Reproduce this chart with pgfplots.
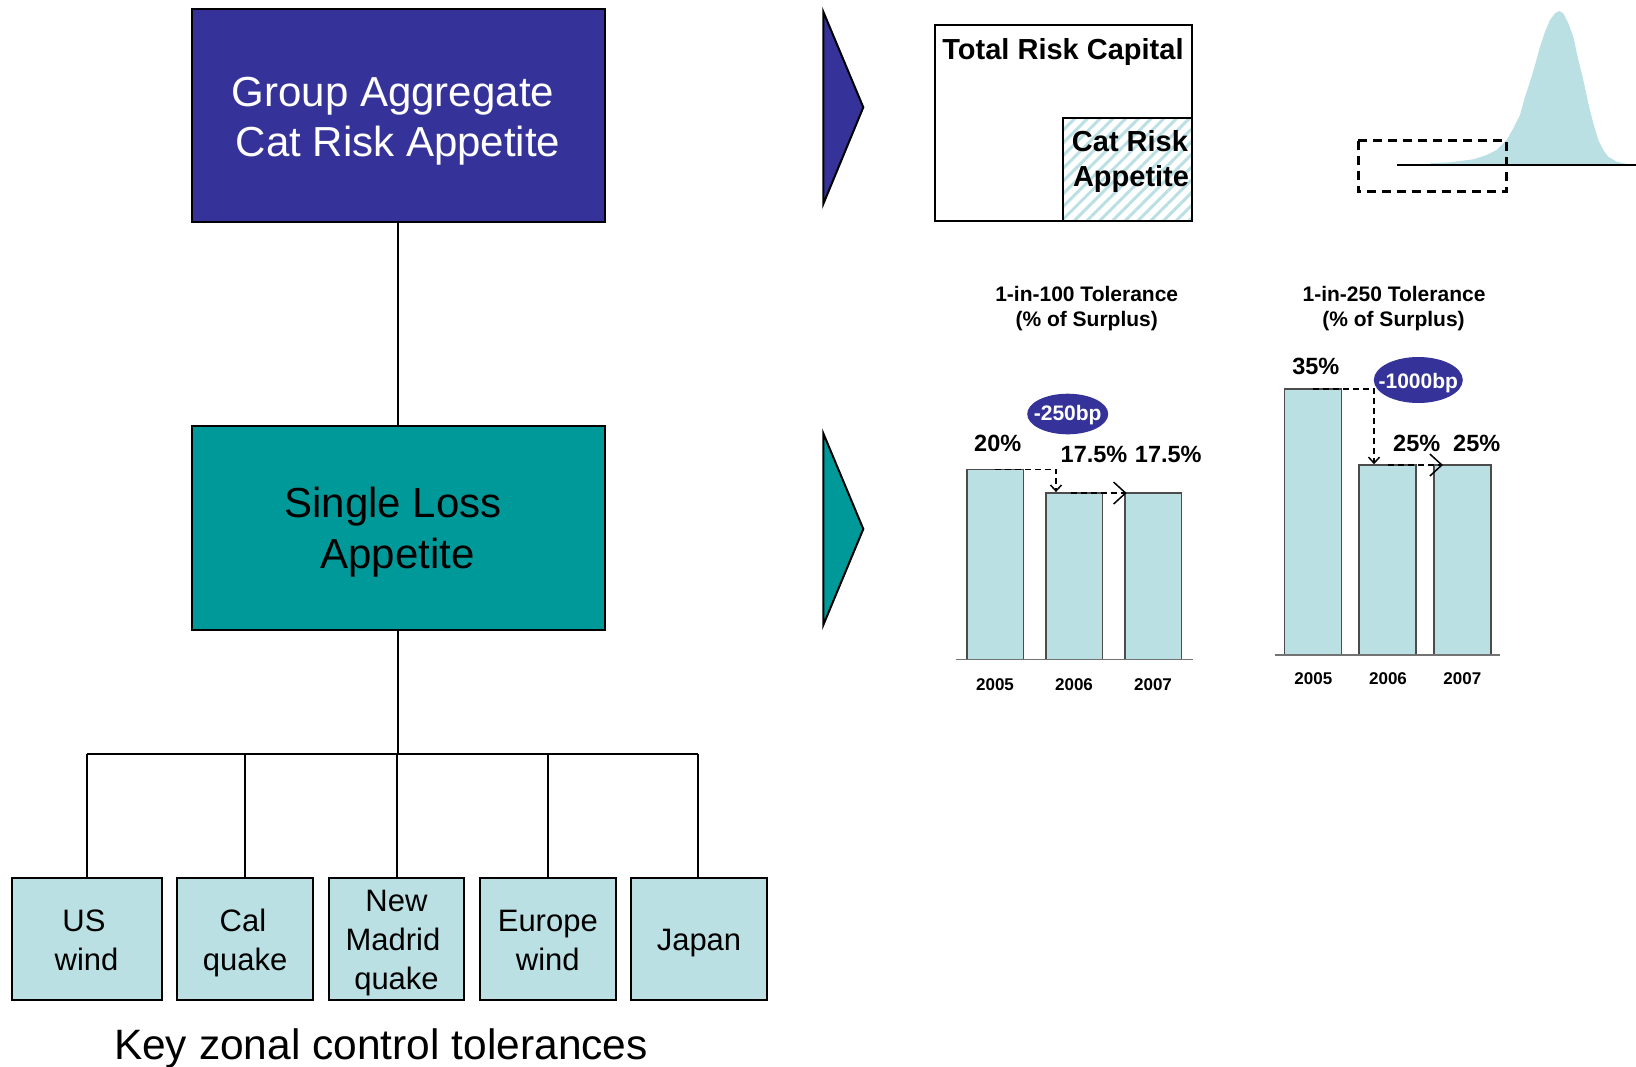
\documentclass[border=0pt]{standalone}
\usepackage{fontspec}
\setmainfont{Liberation Sans}
\usepackage{pgfplots}
\pgfplotsset{compat=1.18}
\usetikzlibrary{arrows.meta,patterns.meta}
\definecolor{catblue}{HTML}{353399}
\definecolor{catteal}{HTML}{009999}
\definecolor{lightcyan}{HTML}{BBE0E3}
\newcommand\fs[1]{\fontsize{#1}{#1}\selectfont}

\begin{document}
\begin{tikzpicture}
% diagram, in pixel units (y down)
\begin{scope}[x=1pt,y=-1pt,line width=2pt]
  % left hierarchy
  \draw (397.5,221.7) -- (397.5,425.7);
  \draw (397.5,630) -- (397.5,754);
  \draw (86.6,754) -- (698,754);
  \foreach \xx in {86.6,245.2,396.5,547.8,698} \draw (\xx,754) -- (\xx,878.3);
  \draw[fill=catblue] (191.7,9.3) rectangle (605,221.7);
  \draw[fill=catteal] (191.7,425.7) rectangle (605,630);
  \node[anchor=base,inner sep=0,text=white,font=\fs{42}] at (393,106) {Group Aggregate};
  \node[anchor=base,inner sep=0,text=white,font=\fs{42}] at (398,156.7) {Cat Risk Appetite};
  \node[anchor=base,inner sep=0,font=\fs{42}] at (393,517.3) {Single Loss};
  \node[anchor=base,inner sep=0,font=\fs{42}] at (397.5,568.3) {Appetite};
  \foreach \xa/\xb in {11.5/161.7,177.4/313,328.7/464.3,480/615.6,631.3/767}
    \draw[fill=lightcyan] (\xa,878.3) rectangle (\xb,1000);
  \begin{scope}[every node/.style={anchor=base,inner sep=0,font=\fs{31}}]
    \node at (84,931.7) {US};
    \node at (86.6,970) {wind};
    \node at (243,931.7) {Cal};
    \node at (245.2,970) {quake};
    \node at (396.5,911.7) {New};
    \node at (393,950.7) {Madrid};
    \node at (396.5,989) {quake};
    \node at (547.8,931.7) {Europe};
    \node at (547.8,970) {wind};
    \node at (699,950.7) {Japan};
  \end{scope}
  \node[anchor=base west,inner sep=0,font=\fs{42.5}] at (113,1059.3) {Key zonal control tolerances};
  % pointers
  \draw[fill=catblue] (823.3,11.7) -- (863.3,107.3) -- (823.3,204) -- cycle;
  \draw[fill=catteal] (823.3,433.3) -- (863.3,529) -- (823.3,625) -- cycle;
  % total risk capital
  \draw[fill=white] (935,25) rectangle (1192.3,220.7);
  \draw[pattern={Lines[angle=45,distance=9pt,line width=3pt]},pattern color=lightcyan] (1063.3,118.3) rectangle (1192.3,220.7);
  \node[anchor=base,inner sep=0,font=\fs{29}\bfseries] at (1063,59.3) {Total Risk Capital};
  \node[anchor=base,inner sep=0,font=\fs{29}\bfseries] at (1130,151.7) {Cat Risk};
  \node[anchor=base,inner sep=0,font=\fs{29}\bfseries] at (1131,186.7) {Appetite};
  % chart titles
  \begin{scope}[every node/.style={anchor=base,inner sep=0,font=\fs{21}\bfseries}]
    \node at (1086.7,301.7) {1-in-100 Tolerance};
    \node at (1086.7,326.7) {(\% of Surplus)};
    \node at (1394,301.7) {1-in-250 Tolerance};
    \node at (1393.5,326.7) {(\% of Surplus)};
  \end{scope}
  \coordinate (o1) at (995,659.3);
  \coordinate (o2) at (1313,655);
  \coordinate (oh) at (1340,165);
\end{scope}

% loss distribution
\begin{axis}[at={(oh)},anchor=origin,x=1pt,y=1pt,xmin=0,xmax=296,ymin=0,ymax=160,
  hide axis,clip=false]
\addplot[fill=lightcyan,draw=none] coordinates {
 (90,0) (90,1.7) (110,2.7) (133.3,5.7) (146.7,10) (156.7,15) (163.3,21.7) (166.7,25)
 (173.3,36.7) (180,50) (185,68.3) (190,83.3) (195,100) (200,118.3) (205,133.3)
 (210,145) (215,151.7) (219.3,154) (223.3,151.7) (228.3,141.7) (233.3,128.3)
 (238.3,105) (243.3,85) (248.3,61.7) (253.3,41.7) (258.3,25) (263.3,15)
 (268.3,8.3) (276.7,3.3) (286.7,1) (296,0.3)} \closedcycle;
\draw[black,line width=2pt] (axis cs:56.7,0) -- (axis cs:296,0);
\end{axis}

% 1-in-100 tolerance
\begin{axis}[at={(o1)},anchor=origin,x=79pt,y=9.5pt,xmin=-0.497,xmax=2.51,ymin=0,ymax=22,
  hide axis,clip=false,ybar,bar width=56.5pt]
\addplot[fill=lightcyan,draw=black!70,line width=1.5pt] coordinates {(0,20) (1,17.5) (2,17.5)};
\draw[black!55,line width=1.5pt] (axis cs:-0.497,0) -- (axis cs:2.51,0);
\draw[dash pattern=on 6pt off 4pt,line width=1.5pt,-{Straight Barb[length=6pt,width=11pt]}]
  (axis cs:0,20) -- (axis cs:0.772,20) -- (axis cs:0.772,17.6);
\draw[dash pattern=on 6pt off 4pt,line width=1.5pt,-{Straight Barb[length=12pt,width=22pt]}]
  (axis cs:0.958,17.5) -- (axis cs:1.667,17.5);
\end{axis}

% 1-in-250 tolerance
\begin{axis}[at={(o2)},anchor=origin,x=74.7pt,y=7.6pt,xmin=-0.509,xmax=2.503,ymin=0,ymax=40,
  hide axis,clip=false,ybar,bar width=57pt]
\addplot[fill=lightcyan,draw=black!70,line width=1.5pt] coordinates {(0,35) (1,25) (2,25)};
\draw[black!55,line width=1.5pt] (axis cs:-0.509,0) -- (axis cs:2.503,0);
\draw[dash pattern=on 6pt off 4pt,line width=1.5pt,-{Straight Barb[length=6pt,width=11pt]}]
  (axis cs:0,35) -- (axis cs:0.817,35) -- (axis cs:0.817,25.1);
\draw[dash pattern=on 6pt off 4pt,line width=1.5pt,-{Straight Barb[length=12pt,width=22pt]}]
  (axis cs:1.004,25) -- (axis cs:1.74,25);
\end{axis}

% overlays in pixel units
\begin{scope}[x=1pt,y=-1pt]
  \draw[dash pattern=on 9pt off 6pt,line width=2.5pt] (1358.3,140.7) rectangle (1506.7,191.7);
  \fill[catblue] (1067.7,414) ellipse [x radius=40.5,y radius=20.3];
  \fill[catblue] (1418.3,380) ellipse [x radius=44.5,y radius=23];
  \node[anchor=base,inner sep=0,text=white,font=\fs{21}\bfseries] at (1067.7,420.5) {-250bp};
  \node[anchor=base,inner sep=0,text=white,font=\fs{21}\bfseries] at (1418.3,388) {-1000bp};
  \begin{scope}[every node/.style={anchor=base,inner sep=0,font=\fs{23.5}\bfseries}]
    \node at (997.7,451) {20\%};
    \node at (1094,462.7) {17.5\%};
    \node at (1168.3,462.7) {17.5\%};
    \node at (1315.8,374.3) {35\%};
    \node at (1416.7,451) {25\%};
    \node at (1476.7,451) {25\%};
  \end{scope}
  \begin{scope}[every node/.style={anchor=base,inner sep=0,font=\fs{17}\bfseries}]
    \node at (995,690.7) {2005};
    \node at (1074,690.7) {2006};
    \node at (1153,690.7) {2007};
    \node at (1313.3,684) {2005};
    \node at (1388,684) {2006};
    \node at (1462.3,684) {2007};
  \end{scope}
\end{scope}
\pgfresetboundingbox
\useasboundingbox (0,0) rectangle (1636pt,-1066pt);
\end{tikzpicture}
\end{document}
